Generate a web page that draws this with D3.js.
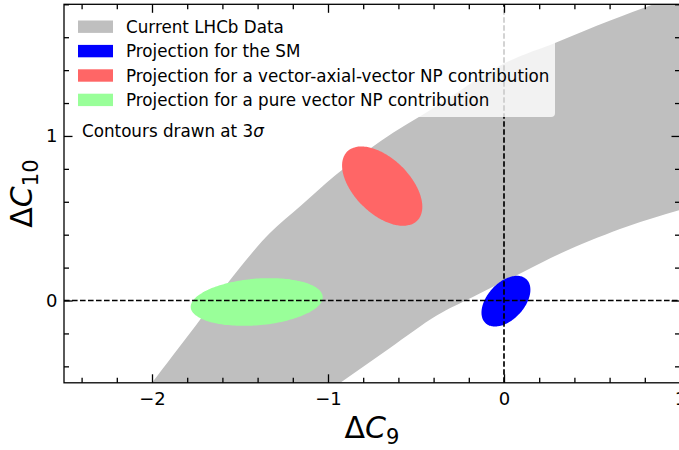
<!DOCTYPE html>
<html>
<head>
<meta charset="utf-8">
<script src="https://cdn.jsdelivr.net/npm/d3@7"></script>
<style>
  html, body { margin: 0; padding: 0; background: #ffffff; }
  svg { display: block; font-family: "DejaVu Sans", sans-serif; }
</style>
</head>
<body>
<svg id="chart" width="679" height="450"></svg>
<script>
// ---------------- data ----------------
const xDomain = [-2.5, 1];
const yDomain = [-0.5, 1.8];
const xMajorTicks = [-2, -1, 0, 1];
const yMajorTicks = [0, 1];
const xMinorTicks = [-2.4, -2.2, -1.8, -1.6, -1.4, -1.2, -0.8, -0.6, -0.4, -0.2, 0.2, 0.4, 0.6, 0.8];
const yMinorTicks = [-0.4, -0.2, 0.2, 0.4, 0.6, 0.8, 1.2, 1.4, 1.6, 1.8];

// current LHCb data band: upper and lower boundary (ΔC9, ΔC10)
const bandUpper = [[-2.14, -0.7], [-2.0, -0.5], [-1.75, -0.15], [-1.5, 0.2], [-1.33, 0.41], [-1.15, 0.58],
                   [-0.96, 0.76], [-0.7, 0.97], [-0.4, 1.17], [0.0, 1.44], [0.3, 1.57], [0.6, 1.70],
                   [0.85, 1.80], [1.1, 1.90], [1.3, 1.98]];
const bandLower = [[-1.2, -0.7], [-0.93, -0.5], [-0.65, -0.29], [-0.38, -0.09], [-0.18, 0.02],
                   [0.12, 0.18], [0.37, 0.31], [0.7, 0.45], [1.0, 0.55], [1.3, 0.64]];

// projected 3σ contours: centre, half-extent in ΔC9, half-extent in ΔC10, correlation
const ellipseNames = ["SM", "VA", "V"];
const ellipseCx = [0.011, -0.692, -1.405];
const ellipseCy = [-0.004, 0.695, -0.009];
const ellipseSx = [0.139, 0.228, 0.375];
const ellipseSy = [0.154, 0.241, 0.145];
const ellipseRho = [0.45, -0.52, 0.2];
const ellipseColors = ["#0000ff", "#ff6666", "#99ff99"];

const legendLabels = ["Current LHCb Data", "Projection for the SM",
                      "Projection for a vector-axial-vector NP contribution",
                      "Projection for a pure vector NP contribution"];
const legendColors = ["#bfbfbf", "#0000ff", "#ff6666", "#99ff99"];

// ---------------- layout ----------------
const svg = d3.select("#chart");
const x = d3.scaleLinear().domain(xDomain).range([64, 680]);
const y = d3.scaleLinear().domain(yDomain).range([382.8, 4.3]);
const X0 = x.range()[0], X1 = x.range()[1], Y0 = y.range()[1], Y1 = y.range()[0];

svg.append("defs").append("clipPath").attr("id", "plotclip")
  .append("rect").attr("x", X0).attr("y", Y0).attr("width", X1 - X0).attr("height", Y1 - Y0);

const plot = svg.append("g").attr("clip-path", "url(#plotclip)");

// band: smooth upper edge, then smooth lower edge back
const edge = d3.line().x(d => x(d[0])).y(d => y(d[1])).curve(d3.curveCatmullRom.alpha(0.5));
const upPath = edge(bandUpper);
const lowPath = edge(bandLower.slice().reverse());
plot.append("path")
  .attr("d", upPath + "L" + lowPath.slice(1) + "Z")
  .attr("fill", "#bfbfbf");

// ellipses
const tAngles = d3.range(0, 360, 2).map(a => a * Math.PI / 180);
ellipseNames.forEach((n, i) => {
  const r = ellipseRho[i];
  const pts = tAngles.map(t => [
    ellipseCx[i] + ellipseSx[i] * Math.cos(t),
    ellipseCy[i] + ellipseSy[i] * (r * Math.cos(t) + Math.sqrt(1 - r * r) * Math.sin(t))
  ]);
  plot.append("path")
    .attr("d", d3.line().x(d => x(d[0])).y(d => y(d[1])).curve(d3.curveCardinalClosed)(pts))
    .attr("fill", ellipseColors[i]);
});

// dashed reference lines
plot.append("line").attr("x1", X0).attr("x2", X1).attr("y1", y(0)).attr("y2", y(0))
  .attr("stroke", "#000").attr("stroke-width", 1.7).attr("stroke-dasharray", "5.6,2.4");
plot.append("line").attr("x1", x(0)).attr("x2", x(0)).attr("y1", Y1).attr("y2", Y0)
  .attr("stroke", "#000").attr("stroke-width", 1.7).attr("stroke-dasharray", "5.6,2.4");

// legend
const lg = svg.append("g");
lg.append("rect").attr("x", 71).attr("y", 9).attr("width", 484).attr("height", 108).attr("rx", 4)
  .attr("fill", "#ffffff").attr("fill-opacity", 0.8);
legendLabels.forEach((lab, i) => {
  const cy = 26.7 + i * 24.4;
  lg.append("rect").attr("x", 78).attr("y", cy - 6.2).attr("width", 35).attr("height", 12.4)
    .attr("fill", legendColors[i]);
  lg.append("text").attr("x", 126).attr("y", cy).attr("dy", "0.36em")
    .attr("font-size", "16.75px").attr("fill", "#000").text(lab);
});

// annotation
const ann = svg.append("text").attr("x", 82).attr("y", 136.5).attr("font-size", "16.75px").attr("fill", "#000");
ann.append("tspan").text("Contours drawn at 3");
ann.append("tspan").attr("font-style", "italic").text("σ");

// axes (ticks inward on all four sides)
function styleAxis(g) {
  g.select(".domain").remove();
  g.selectAll(".tick line").attr("stroke", "#000").attr("stroke-width", 1.3);
  g.selectAll(".tick text").attr("font-size", "18px").attr("fill", "#000")
    .attr("font-family", "DejaVu Sans, sans-serif");
}
const fmt = d3.format("d");
svg.append("g").attr("transform", `translate(0,${Y1})`)
  .call(d3.axisBottom(x).tickValues(xMajorTicks).tickFormat(fmt).tickSizeInner(-8.5).tickSizeOuter(0).tickPadding(9))
  .call(styleAxis);
svg.append("g").attr("transform", `translate(0,${Y1})`)
  .call(d3.axisBottom(x).tickValues(xMinorTicks).tickFormat("").tickSizeInner(-5).tickSizeOuter(0))
  .call(styleAxis);
svg.append("g").attr("transform", `translate(0,${Y0})`)
  .call(d3.axisTop(x).tickValues(xMajorTicks).tickFormat("").tickSizeInner(-8.5).tickSizeOuter(0))
  .call(styleAxis);
svg.append("g").attr("transform", `translate(0,${Y0})`)
  .call(d3.axisTop(x).tickValues(xMinorTicks).tickFormat("").tickSizeInner(-5).tickSizeOuter(0))
  .call(styleAxis);
svg.append("g").attr("transform", `translate(${X0},0)`)
  .call(d3.axisLeft(y).tickValues(yMajorTicks).tickFormat(fmt).tickSizeInner(-8.5).tickSizeOuter(0).tickPadding(6.5))
  .call(styleAxis);
svg.append("g").attr("transform", `translate(${X0},0)`)
  .call(d3.axisLeft(y).tickValues(yMinorTicks).tickFormat("").tickSizeInner(-5).tickSizeOuter(0))
  .call(styleAxis);
svg.append("g").attr("transform", `translate(${X1},0)`)
  .call(d3.axisRight(y).tickValues(yMajorTicks).tickFormat("").tickSizeInner(-8.5).tickSizeOuter(0))
  .call(styleAxis);
svg.append("g").attr("transform", `translate(${X1},0)`)
  .call(d3.axisRight(y).tickValues(yMinorTicks).tickFormat("").tickSizeInner(-5).tickSizeOuter(0))
  .call(styleAxis);

// frame
svg.append("rect").attr("x", X0).attr("y", Y0).attr("width", X1 - X0).attr("height", Y1 - Y0)
  .attr("fill", "none").attr("stroke", "#000").attr("stroke-width", 1.3);

// axis labels
const xl = svg.append("text").attr("x", (X0 + X1) / 2).attr("y", 438).attr("text-anchor", "middle")
  .attr("font-size", "30px").attr("fill", "#000");
xl.append("tspan").text("Δ");
xl.append("tspan").attr("font-style", "italic").text("C");
xl.append("tspan").attr("font-size", "21px").attr("dy", "6").text("9");

const yl = svg.append("text").attr("transform", `translate(32,${(Y0 + Y1) / 2}) rotate(-90)`)
  .attr("text-anchor", "middle").attr("font-size", "30px").attr("fill", "#000");
yl.append("tspan").text("Δ");
yl.append("tspan").attr("font-style", "italic").text("C");
yl.append("tspan").attr("font-size", "21px").attr("dy", "6").text("10");
</script>
</body>
</html>
